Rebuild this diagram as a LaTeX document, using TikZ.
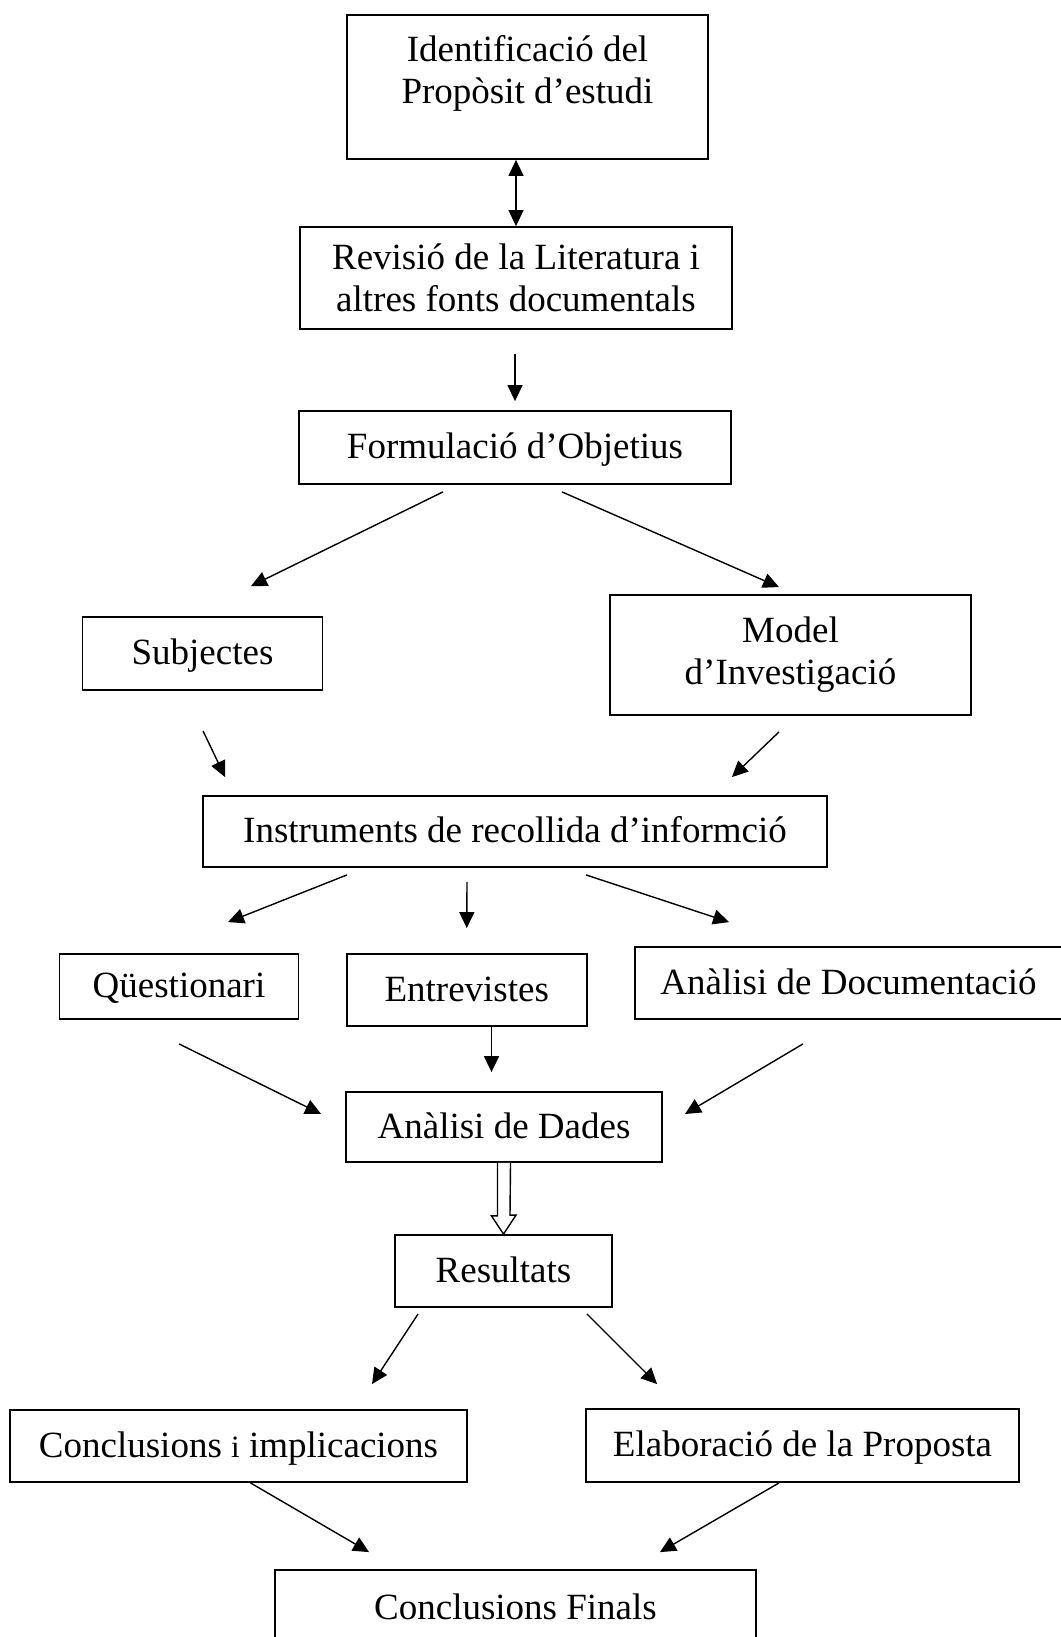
\documentclass[tikz,border=0pt]{standalone}
\usepackage{fontspec}
\setmainfont{Liberation Serif}
\usetikzlibrary{arrows.meta,positioning}

\tikzset{
  txt/.style={inner sep=0pt, align=center, font=\fontsize{37}{42}\selectfont},
  box/.style={txt, draw, line width=1.8pt},
  onebox/.style={box, text height=26pt, text depth=4pt},
  arr/.style={line width=1.4pt, -{Triangle[length=16pt,width=15pt]}},
  dblarr/.style={line width=1.4pt, {Triangle[length=16pt,width=15pt]}-{Triangle[length=16pt,width=15pt]}},
  hollow/.style={line width=1.4pt, fill=white}
}

\begin{document}
\begin{tikzpicture}[x=1pt, y=-1pt]
\useasboundingbox (0,0) rectangle (1060,1637);

% boxes
\node[box, minimum width=361, minimum height=144] (ident) at (527.5,87) {};
\node[txt, anchor=north] (identtxt) at (527.5,35) {Identificació del\\Propòsit d’estudi};
\node[box, minimum width=432, minimum height=102] (revisio) at (516,278) {Revisió de la Literatura i\\altres fonts documentals};
\node[onebox, minimum width=432, minimum height=73] (form) at (515,447.5) {Formulació d’Objetius};
\node[onebox, minimum width=240, minimum height=73] (subj) at (202.5,653.5) {Subjectes};
\node[box, minimum width=361, minimum height=120] (model) at (790.5,655) {Model\\d’Investigació};
\node[onebox, minimum width=624, minimum height=71] (instr) at (515,831.5) {Instruments de recollida d’informció};
\node[onebox, minimum width=239, minimum height=65] (quest) at (179,986.5) {Qüestionari};
\node[onebox, minimum width=240, minimum height=72] (entrev) at (466.75,990) {Entrevistes};
\node[onebox, minimum width=427, minimum height=72] (analdoc) at (848.5,983) {Anàlisi de Documentació};
\node[onebox, minimum width=316, minimum height=70] (dades) at (504,1127) {Anàlisi de Dades};
\node[onebox, minimum width=217, minimum height=72] (res) at (503.5,1271) {Resultats};
\node[onebox, minimum width=457, minimum height=72] (concl) at (238.5,1446) {Conclusions {\fontsize{31}{31}\selectfont i} implicacions};
\node[onebox, minimum width=433, minimum height=73] (elab) at (802.5,1445.5) {Elaboració de la Proposta};
\node[onebox, minimum width=481, minimum height=76] (final) at (515.5,1608) {Conclusions Finals};

% connectors
\draw[dblarr] (ident.south -| revisio.north) -- (revisio.north);
\draw[arr] ([shift={(-1,24)}]revisio.south) -- ([shift={(0,-9)}]form.north);
\draw[arr] ([shift={(-72,7)}]form.south) -- ([shift={(48.5,-30)}]subj.north);
\draw[arr] ([shift={(47,7)}]form.south) -- ([shift={(-11.5,-7)}]model.north);
\draw[arr] ([shift={(0.5,40)}]subj.south) -- ([shift={(23,-18)}]instr.north west);
\draw[arr] ([shift={(-11.5,16)}]model.south) -- ([shift={(-96,-18)}]instr.north east);
\draw[arr] ([shift={(-168,7)}]instr.south) -- ([shift={(49,-31)}]quest.north);
\draw[arr] ([shift={(-48,14)}]instr.south) -- ([shift={(0,-25)}]entrev.north);
\draw[arr] ([shift={(71,7)}]instr.south) -- ([shift={(95,-24)}]analdoc.north west);
\draw[arr] ([shift={(0,24)}]quest.south) -- ([shift={(-24,-13)}]dades.west);
\draw[arr] ([shift={(24.75,0)}]entrev.south) -- ([shift={(-12.5,-19)}]dades.north);
\draw[arr] ([shift={(-45.5,24)}]analdoc.south) -- ([shift={(22,-13)}]dades.east);
\draw[hollow] ([xshift=-6.5pt]dades.south) -- ++(0,53) -- ++(-6,0) -- (res.north)
  -- ++(12.5,-19) -- ++(-6,0) -- ([xshift=6.5pt]dades.south);
\draw[arr] ([shift={(24,6)}]res.south west) -- ([shift={(133.5,-25)}]concl.north);
\draw[arr] ([shift={(-26,6)}]res.south east) -- ([shift={(72,-24)}]elab.north west);
\draw[arr] ([shift={(12,0)}]concl.south) -- ([shift={(95,-17)}]final.north west);
\draw[arr] ([shift={(-23.5,0)}]elab.south) -- ([shift={(-97,-17)}]final.north east);
\end{tikzpicture}
\end{document}
